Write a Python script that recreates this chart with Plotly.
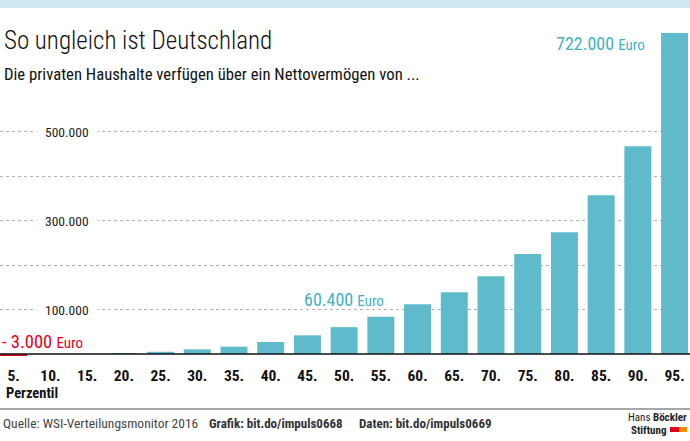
import plotly.graph_objects as go

# ---- data ----
perzentile = ["5.", "10.", "15.", "20.", "25.", "30.", "35.", "40.", "45.", "50.",
              "55.", "60.", "65.", "70.", "75.", "80.", "85.", "90.", "95."]
vermoegen = [-3000, 0, 0, 1500, 5000, 10500, 16500, 27000, 42000, 60400,
             84000, 112000, 139000, 175000, 225000, 274000, 357000, 467000, 722000]
grid_werte = [100000, 200000, 300000, 400000, 500000]
grid_labels = {100000: "100.000", 300000: "300.000", 500000: "500.000"}

W, H = 690, 441
ML, MR, MT, MB = 0, 0, 10, 80
PH = H - MT - MB  # plot height in px

def ppx(p):
    return p / W

def ppy(p):
    return (H - MB - p) / PH

TEAL = "#5fbbcb"
TEAL_TXT = "#45afc4"
RED = "#e3001b"
FAM = "Roboto"

def f(size, color="#111", family=FAM, weight="normal"):
    return dict(family=family, size=size, color=color, weight=weight)

def cond(t):
    return "<span style='font-stretch:condensed'>" + t + "</span>"

colors = [RED if v < 0 else TEAL for v in vermoegen]

fig = go.Figure()
fig.add_trace(go.Bar(
    x=perzentile, y=vermoegen,
    marker=dict(color=colors, line=dict(width=0)),
    hoverinfo="skip",
))

ann = []
for v, t in grid_labels.items():
    ann.append(dict(x=ppx(67), xref="paper", y=v, yref="y", text=cond(t),
                    showarrow=False, xanchor="center", yanchor="middle",
                    bgcolor="white", borderpad=8, font=f(13.5, "#222")))

ann.append(dict(x=ppx(0), xref="paper", y=ppy(342), yref="paper",
                text=cond("- 3.000 <span style='font-size:15px'>Euro</span>"),
                showarrow=False, xanchor="left", yanchor="middle", font=f(18.5, RED)))
ann.append(dict(x=9, xref="x", y=ppy(299), yref="paper",
                text=cond("60.400 <span style='font-size:15px'>Euro</span>"),
                showarrow=False, xanchor="center", yanchor="middle", font=f(18, TEAL_TXT)))
ann.append(dict(x=ppx(647), xref="paper", y=ppy(43), yref="paper",
                text=cond("722.000 <span style='font-size:15px'>Euro</span>"),
                showarrow=False, xanchor="right", yanchor="middle", font=f(18, TEAL_TXT)))

ann.append(dict(x=ppx(2), xref="paper", y=ppy(41), yref="paper",
                text=cond("So ungleich ist Deutschland"), showarrow=False,
                xanchor="left", yanchor="middle", font=f(25, weight=300)))
ann.append(dict(x=ppx(2), xref="paper", y=ppy(74), yref="paper",
                text=cond("Die privaten Haushalte verfügen über ein Nettovermögen von ..."),
                showarrow=False, xanchor="left", yanchor="middle", font=f(16.7)))

ann.append(dict(x=ppx(4), xref="paper", y=ppy(393.5), yref="paper",
                text=cond("<b>Perzentil</b>"), showarrow=False,
                xanchor="left", yanchor="middle", font=f(14.5)))

ann.append(dict(x=ppx(1), xref="paper", y=ppy(423), yref="paper",
                text=cond("Quelle: WSI-Verteilungsmonitor 2016"), showarrow=False,
                xanchor="left", yanchor="middle", font=f(13.5, "#444")))
ann.append(dict(x=ppx(207), xref="paper", y=ppy(423), yref="paper",
                text=cond("<b>Grafik: bit.do/impuls0668</b>"), showarrow=False,
                xanchor="left", yanchor="middle", font=f(13, "#333")))
ann.append(dict(x=ppx(357), xref="paper", y=ppy(423), yref="paper",
                text=cond("<b>Daten: bit.do/impuls0669</b>"), showarrow=False,
                xanchor="left", yanchor="middle", font=f(13, "#333")))
ann.append(dict(x=ppx(689), xref="paper", y=ppy(417), yref="paper",
                text=cond("Hans <b>Böckler</b>"), showarrow=False,
                xanchor="right", yanchor="middle", font=f(11, "#222")))
ann.append(dict(x=ppx(629), xref="paper", y=ppy(430), yref="paper",
                text=cond("<b>Stiftung</b>"), showarrow=False,
                xanchor="left", yanchor="middle", font=f(11, "#222")))

shapes = [
    dict(type="rect", xref="paper", yref="paper", x0=0, x1=1, y0=ppy(8), y1=ppy(0),
         fillcolor="#cfe7ef", line=dict(width=0), layer="below"),
    dict(type="line", xref="paper", yref="y", x0=0, x1=1, y0=0, y1=0,
         line=dict(color="#111", width=1.5)),
    dict(type="line", xref="paper", yref="paper", x0=0, x1=1, y0=ppy(409), y1=ppy(409),
         line=dict(color="#8a8a8a", width=1.5)),
    dict(type="rect", xref="paper", yref="paper", x0=ppx(670), x1=ppx(679),
         y0=ppy(432), y1=ppy(427), fillcolor=RED, line=dict(width=0)),
    dict(type="rect", xref="paper", yref="paper", x0=ppx(679), x1=ppx(687),
         y0=ppy(432), y1=ppy(427), fillcolor="#f39200", line=dict(width=0)),
]

ymin = -7 / 0.4446 * 1000
ymax = (354 - MT) / 0.4446 * 1000

fig.update_layout(
    width=W, height=H,
    margin=dict(l=ML, r=MR, t=MT, b=MB),
    paper_bgcolor="white", plot_bgcolor="white",
    showlegend=False, bargap=0.265,
    annotations=ann, shapes=shapes,
    xaxis=dict(range=[-0.373, 18.42], showgrid=False, zeroline=False,
               showline=False, ticks="", ticklabelstandoff=3,
               tickvals=perzentile,
               ticktext=[cond("<b>" + p + "</b>") for p in perzentile],
               tickfont=f(15.5)),
    yaxis=dict(range=[ymin, ymax], tickvals=grid_werte, showticklabels=False,
               showgrid=True, gridcolor="#b0b0b0", griddash="dot", gridwidth=1,
               zeroline=False, showline=False, ticks=""),
)

fig.write_html("out.html", config={"displayModeBar": False},
               post_script="document.body.style.margin='0';")
